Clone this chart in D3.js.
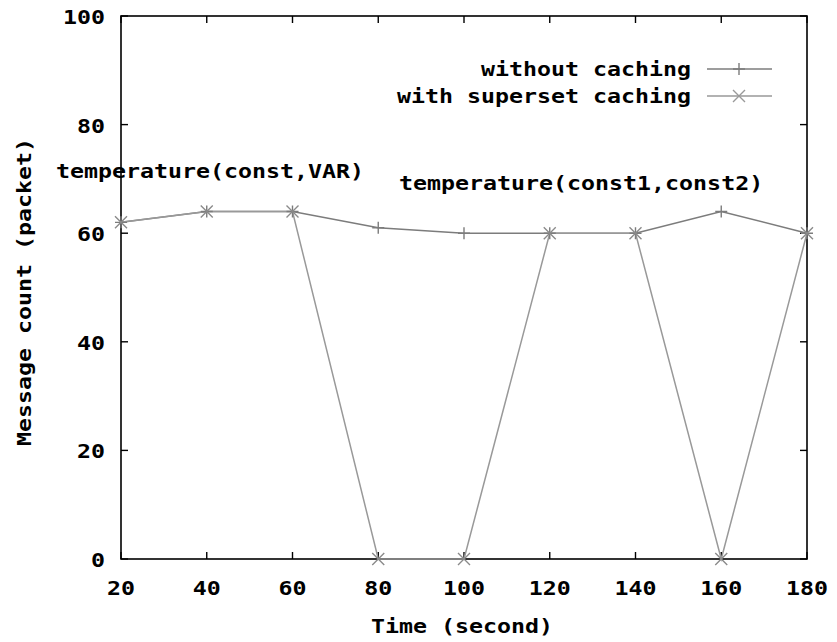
<!DOCTYPE html>
<html>
<head>
<meta charset="utf-8">
<script src="https://cdn.jsdelivr.net/npm/d3@7"></script>
<style>
  html, body { margin: 0; padding: 0; background: #fff; }
  svg text { font-family: "DejaVu Sans Mono", monospace; font-weight: bold; fill: #000; }
</style>
</head>
<body>
<svg id="chart" width="837" height="642"></svg>
<script>
// ---- data ----
const times = [20, 40, 60, 80, 100, 120, 140, 160, 180];
const withoutCaching = [62, 64, 64, 61, 60, 60, 60, 64, 60];
const supersetCaching = [62, 64, 64, 0, 0, 60, 60, 0, 60];
const xTicks = [20, 40, 60, 80, 100, 120, 140, 160, 180];
const yTicks = [0, 20, 40, 60, 80, 100];
const seriesNames = ["without caching", "with superset caching"];
const annotations = [
  { text: "temperature(const,VAR)", x: 20, y: 71.5, dx: -65 },
  { text: "temperature(const1,const2)", x: 100, y: 69.3, dx: -65 }
];
const xLabel = "Time (second)";
const yLabel = "Message count (packet)";

// ---- layout ----
const FS = 19;      // font size
const SX = 1.225;   // horizontal glyph stretch -> 14px pitch
const svg = d3.select("#chart");
const m = { left: 121, right: 807, top: 16, bottom: 559 };
const x = d3.scaleLinear().domain([20, 180]).range([m.left, m.right]);
const y = d3.scaleLinear().domain([0, 100]).range([m.bottom, m.top]);

function txt(s, px, py, anchor, rot) {
  return svg.append("text").text(s)
    .attr("text-anchor", anchor)
    .style("font-size", FS + "px")
    .attr("transform", `translate(${px},${py})` + (rot ? ` rotate(${rot})` : "") + ` scale(${SX},1)`);
}

// border
svg.append("rect")
  .attr("x", m.left).attr("y", m.top)
  .attr("width", m.right - m.left).attr("height", m.bottom - m.top)
  .attr("fill", "none").attr("stroke", "#000").attr("stroke-width", 1.6);

// ticks (mirrored, inward)
const TL = 7;
const tickG = svg.append("g").attr("stroke", "#000").attr("stroke-width", 1.4);
xTicks.forEach(t => {
  tickG.append("line").attr("x1", x(t)).attr("x2", x(t)).attr("y1", m.bottom).attr("y2", m.bottom - TL);
  tickG.append("line").attr("x1", x(t)).attr("x2", x(t)).attr("y1", m.top).attr("y2", m.top + TL);
});
yTicks.forEach(t => {
  tickG.append("line").attr("x1", m.left).attr("x2", m.left + TL).attr("y1", y(t)).attr("y2", y(t));
  tickG.append("line").attr("x1", m.right).attr("x2", m.right - TL).attr("y1", y(t)).attr("y2", y(t));
});

// tick labels
xTicks.forEach(t => txt(String(t), x(t), 595, "middle"));
yTicks.forEach(t => txt(String(t), 105, y(t) + 8, "end"));

// axis titles
txt(xLabel, 462, 633, "middle");
txt(yLabel, 31, 292, "middle", -90);

// series
const colors = ["#7c7c7c", "#999999"];
const markColors = ["#7c7c7c", "#8a8a8a"];
const line = d3.line().x(d => x(d[0])).y(d => y(d[1]));
const S = 6;
function plus(g, cx, cy, c) {
  g.append("path").attr("d", `M${cx - S},${cy}H${cx + S}M${cx},${cy - S}V${cy + S}`)
    .attr("stroke", c).attr("stroke-width", 1.4).attr("fill", "none");
}
function cross(g, cx, cy, c) {
  g.append("path").attr("d", `M${cx - S},${cy - S}L${cx + S},${cy + S}M${cx - S},${cy + S}L${cx + S},${cy - S}`)
    .attr("stroke", c).attr("stroke-width", 1.4).attr("fill", "none");
}
const data = [withoutCaching, supersetCaching];
const markers = [plus, cross];
data.forEach((vals, i) => {
  const pts = times.map((t, k) => [t, vals[k]]);
  svg.append("path").attr("d", line(pts)).attr("fill", "none")
    .attr("stroke", colors[i]).attr("stroke-width", 1.5);
});
data.forEach((vals, i) => {
  const g = svg.append("g");
  times.forEach((t, k) => markers[i](g, x(t), y(vals[k]), markColors[i]));
});

// legend
const legendY = [69, 96];
seriesNames.forEach((name, i) => {
  txt(name, 691, legendY[i] + 7, "end");
  svg.append("line").attr("x1", 707).attr("x2", 772).attr("y1", legendY[i]).attr("y2", legendY[i])
    .attr("stroke", colors[i]).attr("stroke-width", 1.5);
  markers[i](svg, 739, legendY[i], colors[i]);
});

// annotations
annotations.forEach(a => txt(a.text, x(a.x) + a.dx, y(a.y) + 7, "start"));
</script>
</body>
</html>
